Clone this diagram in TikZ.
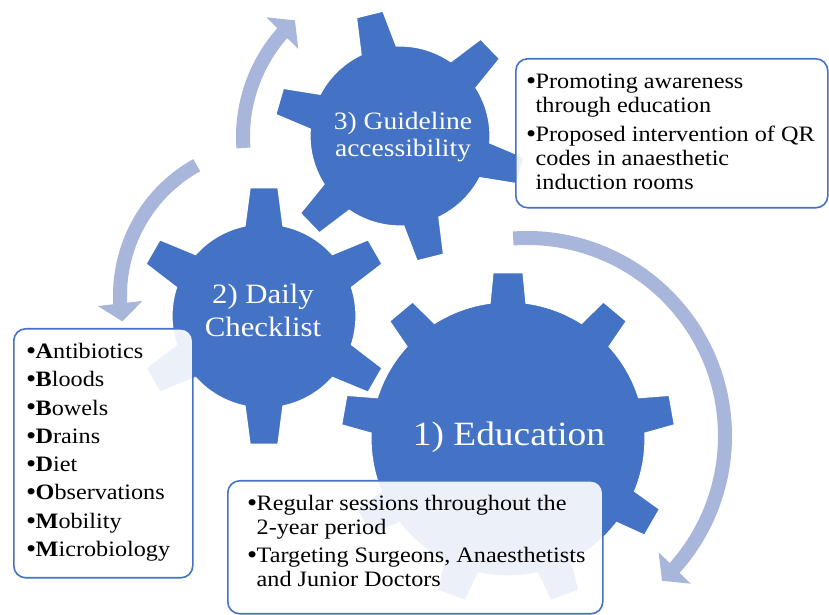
\documentclass[tikz,border=0pt]{standalone}
\usepackage{fontspec}
\setmainfont{Liberation Serif}[FakeStretch=1.1]
\usetikzlibrary{arrows.meta,bending}

\definecolor{gearblue}{RGB}{68,114,196}
\definecolor{cyclefill}{RGB}{169,182,220}
\definecolor{boxline}{RGB}{68,114,196}

% list bullet, a little heavier than the plain glyph
\newcommand\bul{\makebox[9.5pt][l]{\raisebox{-0.8pt}{\scalebox{1.2}{•}}}}

% Gear outline: #1 centre, #2 number of teeth, #3 angle of first tooth,
% #4 root radius, #5 tip radius, #6 half-angle at root, #7 half-angle at tip
\newcommand\gearoutline[7]{%
  \begin{scope}[shift={#1}]
    \pgfmathsetmacro\gstep{360/#2}
    \path[gearbody] ({#3-#6}:#4)
      \foreach \gi in {1,...,#2}{
        -- ({#3+(\gi-1)*\gstep-#7}:#5)
        -- ({#3+(\gi-1)*\gstep+#7}:#5)
        -- ({#3+(\gi-1)*\gstep+#6}:#4)
        arc[start angle={#3+(\gi-1)*\gstep+#6}, end angle={#3+\gi*\gstep-#6}, radius=#4]
      } -- cycle;
  \end{scope}}

\begin{document}
\begin{tikzpicture}[x=1pt,y=1pt,
  gearbody/.style={fill=gearblue, draw=white, line width=1.2pt},
  cyclearrow/.style={draw=cyclefill, line width=14pt,
    -{Triangle[width=44pt,length=18pt]}},
  infobox/.style={draw=boxline, line width=1.6pt, rounded corners=12pt,
    fill=white, fill opacity=0.9, inner sep=0pt, anchor=north west},
  listtext/.style={align=left, inner sep=0pt, anchor=north west,
    font=\fontsize{22}{24}\selectfont},
  gearlabel/.style={text=white, align=center, inner sep=0pt}]
\useasboundingbox (0,0) rectangle (829,615);

% centres of the gears and of the cycle arrows
\coordinate (c1) at (508,176);
\coordinate (c2) at (264,299);
\coordinate (c3) at (400,479);
\coordinate (a1) at (527,179);
\coordinate (a2) at (400,478);
\coordinate (a3) at (269,319.5);

% cycle arrows
\draw[cyclearrow] (a1) ++(94:198) arc[start angle=94, end angle=-47, radius=198];
\draw[cyclearrow] (a2) ++(184:157) arc[start angle=184, end angle=132, radius=157];
\draw[cyclearrow] (a3) ++(119:149) arc[start angle=119, end angle=190, radius=149];

% gears
\gearoutline{(c1)}{9}{90}{137}{167}{7.55}{5.15}
\gearoutline{(c2)}{6}{90}{92}{129}{11.9}{6.2}
\gearoutline{(c3)}{6}{44}{90}{126}{11.6}{6.2}

\node[gearlabel, font=\fontsize{34}{38}\selectfont] (lab1) at (509,178) {1) Education};
\node[gearlabel, font=\fontsize{28}{33}\selectfont] (lab2) at (263,305) {2) Daily\\Checklist};
\node[gearlabel, font=\fontsize{25}{27}\selectfont] (lab3) at (403,478) {3) Guideline\\accessibility};

% note boxes
\node[infobox, minimum width=312pt, minimum height=149pt] (box3) at (515,557) {};
\node[infobox, minimum width=179pt, minimum height=249pt] (box2) at (13,287) {};
\node[infobox, minimum width=375pt, minimum height=133pt] (box1) at (227,135) {};

\node[listtext] (list3) at (526,541) {\bul Promoting awareness\\
  \phantom{\bul}through education\\[5pt]
  \bul Proposed intervention of QR\\
  \phantom{\bul}codes in anaesthetic\\
  \phantom{\bul}induction rooms};

\node[listtext] (list2) at (26,272) {\bul\textbf{A}ntibiotics\\[4.3pt]
  \bul\textbf{B}loods\\[4.3pt]
  \bul\textbf{B}owels\\[4.3pt]
  \bul\textbf{D}rains\\[4.3pt]
  \bul\textbf{D}iet\\[4.3pt]
  \bul\textbf{O}bservations\\[4.3pt]
  \bul\textbf{M}obility\\[4.3pt]
  \bul\textbf{M}icrobiology};

\node[listtext] (list1) at (247,120) {\bul Regular sessions throughout the\\
  \phantom{\bul}2-year period\\[4pt]
  \bul Targeting Surgeons, Anaesthetists\\
  \phantom{\bul}and Junior Doctors};
\end{tikzpicture}
\end{document}
